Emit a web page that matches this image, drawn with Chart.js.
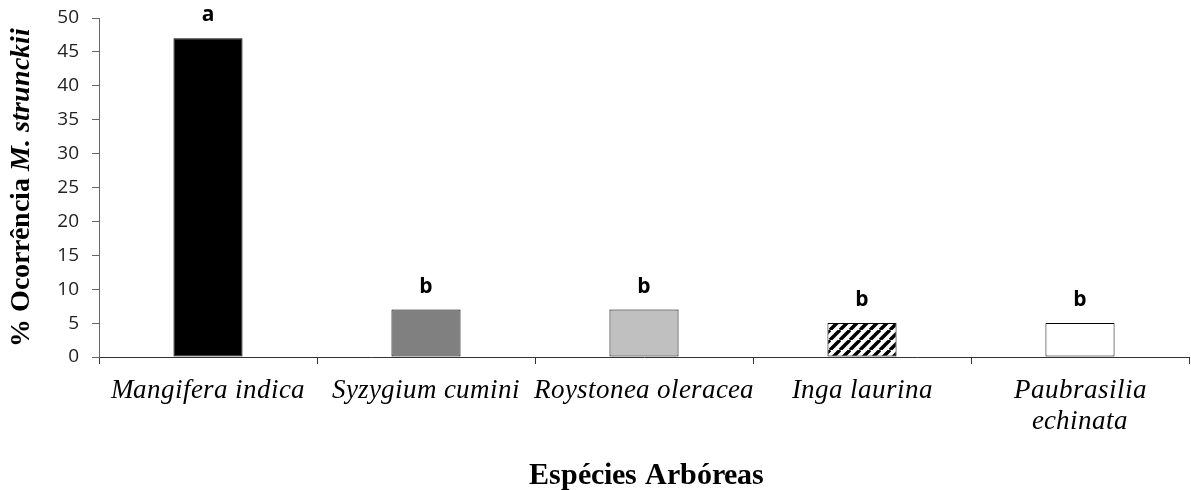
<!DOCTYPE html>
<html>
<head>
<meta charset="utf-8">
<script src="https://cdn.jsdelivr.net/npm/chart.js@4"></script>
<style>
  @font-face { font-family: 'LSerif'; font-style: normal; font-weight: 400; src: local('Liberation Serif'), local('LiberationSerif'); }
  @font-face { font-family: 'LSerif'; font-style: italic; font-weight: 400; src: local('Liberation Serif Italic'), local('LiberationSerif-Italic'); }
  @font-face { font-family: 'LSerif'; font-style: normal; font-weight: 700; src: local('Liberation Serif Bold'), local('LiberationSerif-Bold'); }
  @font-face { font-family: 'LSerif'; font-style: italic; font-weight: 700; src: local('Liberation Serif Bold Italic'), local('LiberationSerif-BoldItalic'); }
  html, body { margin: 0; padding: 0; background: #fff; }
  #wrap { width: 1191px; height: 490px; }
  .pre { position: absolute; left: -9999px; }
</style>
</head>
<body>
<div class="pre">
  <span style="font-family:LSerif">a</span>
  <span style="font-family:LSerif;font-style:italic">a</span>
  <span style="font-family:LSerif;font-weight:bold">a</span>
  <span style="font-family:LSerif;font-weight:bold;font-style:italic">a</span>
  <span style="font-family:'Open Sans'">a</span>
  <span style="font-family:'Open Sans';font-weight:bold">a</span>
</div>
<div id="wrap"><canvas id="OcorrenciaChart" width="1191" height="490"></canvas></div>
<script>
const especies = ['Mangifera indica', 'Syzygium cumini', 'Roystonea oleracea', 'Inga laurina', ['Paubrasilia', 'echinata']];
const ocorrencia = [47, 7, 7, 5, 5];
const letras = ['a', 'b', 'b', 'b', 'b'];
const yTicks = [0, 5, 10, 15, 20, 25, 30, 35, 40, 45, 50];

const SERIF = 'LSerif, "Liberation Serif", "Times New Roman", serif';
const SANS = '"Open Sans", "Liberation Sans", sans-serif';

function hatch() {
  const c = document.createElement('canvas');
  c.width = 10; c.height = 10;
  const g = c.getContext('2d');
  g.fillStyle = '#fff';
  g.fillRect(0, 0, 10, 10);
  g.strokeStyle = '#000';
  g.lineWidth = 3.5;
  g.beginPath();
  for (let k = -10; k <= 20; k += 10) {
    g.moveTo(k, 10);
    g.lineTo(k + 10, 0);
  }
  g.stroke();
  return g.createPattern(c, 'repeat');
}

// letras acima das barras + titulos dos eixos
const extras = {
  id: 'extras',
  afterDatasetsDraw(chart) {
    const ctx = chart.ctx;
    const meta = chart.getDatasetMeta(0);
    const area = chart.chartArea;
    ctx.save();
    ctx.fillStyle = '#000';
    ctx.font = 'bold 21px ' + SANS;
    ctx.textAlign = 'center';
    ctx.textBaseline = 'alphabetic';
    meta.data.forEach((bar, i) => {
      ctx.fillText(letras[i], bar.x, bar.y - 17);
    });

    ctx.font = 'bold 30px ' + SERIF;
    ctx.fillText('Espécies Arbóreas', (area.left + area.right) / 2 + 2, 484);

    // titulo y, com parte em italico
    const p1 = '% Ocorrência ';
    const p2 = 'M. strunckii';
    const f1 = 'bold 28px ' + SERIF;
    const f2 = 'italic bold 28px ' + SERIF;
    ctx.font = f1;
    const w1 = ctx.measureText(p1).width;
    ctx.font = f2;
    const w2 = ctx.measureText(p2).width;
    ctx.translate(29, (area.top + area.bottom) / 2);
    ctx.rotate(-Math.PI / 2);
    ctx.textAlign = 'left';
    const start = -(w1 + w2) / 2;
    ctx.font = f1;
    ctx.fillText(p1, start, 0);
    ctx.font = f2;
    ctx.fillText(p2, start + w1, 0);
    ctx.restore();
  }
};

function buildChart() {
  new Chart(document.getElementById('OcorrenciaChart').getContext('2d'), {
    type: 'bar',
    data: {
      labels: especies,
      datasets: [{
        data: ocorrencia,
        backgroundColor: ['#000000', '#808080', '#c0c0c0', hatch(), '#ffffff'],
        borderColor: '#000',
        borderWidth: 1,
        borderSkipped: false,
        categoryPercentage: 1,
        barPercentage: 0.317
      }]
    },
    options: {
      responsive: false,
      animation: false,
      layout: { padding: { left: 0, right: 2, top: 18, bottom: 0 } },
      plugins: { legend: { display: false }, tooltip: { enabled: false } },
      scales: {
        x: {
          offset: true,
          grid: { offset: true, drawOnChartArea: false, drawTicks: true, tickLength: 7, color: '#333' },
          border: { color: '#333', width: 1 },
          ticks: {
            color: '#000',
            font: { family: SERIF, style: 'italic', size: 26.5, lineHeight: 1.15 },
            padding: 12,
            maxRotation: 0,
            autoSkip: false
          },
          afterFit(scale) {
            scale.height = 133;
            scale.paddingLeft = 0;
            scale.paddingRight = 0;
          }
        },
        y: {
          min: 0,
          max: 50,
          afterBuildTicks(scale) { scale.ticks = yTicks.map(v => ({ value: v })); },
          grid: { drawOnChartArea: false, drawTicks: true, tickLength: 7, color: '#666' },
          border: { color: '#666', width: 1 },
          ticks: {
            color: '#222',
            font: { family: SANS, size: 19 },
            padding: 13
          },
          afterFit(scale) {
            scale.width = 99;
            scale.paddingTop = 0;
            scale.paddingBottom = 0;
          }
        }
      }
    },
    plugins: [extras]
  });
}

const fontes = ['26px LSerif', 'italic 26px LSerif', 'bold 26px LSerif', 'italic bold 26px LSerif', '19px "Open Sans"', 'bold 19px "Open Sans"'];
Promise.all(fontes.map(f => document.fonts.load(f).catch(() => null)))
  .then(() => document.fonts.ready)
  .then(buildChart, buildChart);
</script>
</body>
</html>
